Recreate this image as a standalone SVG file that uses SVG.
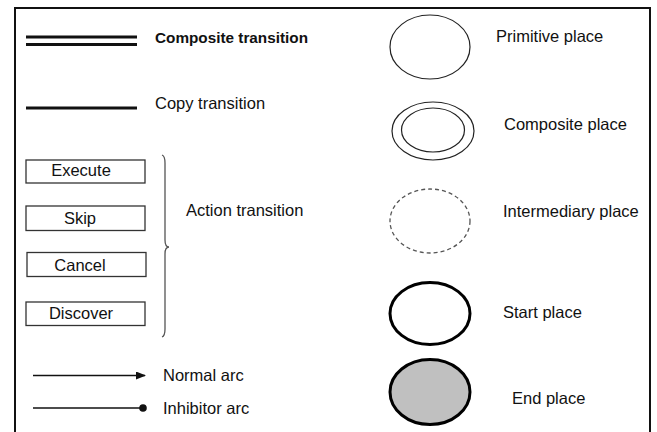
<svg xmlns="http://www.w3.org/2000/svg" width="657" height="432" viewBox="0 0 657 432">
<defs>
<style>
text{font-family:"Liberation Sans",Arial,sans-serif;font-size:16.5px;fill:#111}
.mid{text-anchor:middle}
.box{fill:#fff;stroke:#333;stroke-width:1.3}
.place{fill:#fff;stroke:#222;stroke-width:1.2}
.thick{stroke:#000;stroke-width:3}
.bar{stroke:#111;stroke-width:3;fill:none}
.arc{stroke:#111;stroke-width:1.3;fill:none}
</style>
<marker id="arrow" markerWidth="10" markerHeight="8" refX="9" refY="4" orient="auto" markerUnits="userSpaceOnUse">
<path d="M0,0 L10,4 L0,8 Z" fill="#111"/>
</marker>
<marker id="dot" markerWidth="9" markerHeight="9" refX="4.5" refY="4.5" orient="auto" markerUnits="userSpaceOnUse">
<circle cx="4.5" cy="4.5" r="3.8" fill="#111"/>
</marker>
</defs>
<rect x="0" y="0" width="657" height="432" fill="#fff"/>
<rect x="15" y="8" width="635" height="440" fill="none" stroke="#111" stroke-width="2"/>

<g id="composite-transition">
<line class="bar" x1="26" y1="37" x2="137" y2="37"/>
<line class="bar" x1="26" y1="44.5" x2="137" y2="44.5"/>
<text x="155" y="43" style="font-weight:bold;font-size:15.3px">Composite transition</text>
</g>
<g id="copy-transition">
<line class="bar" x1="26" y1="108" x2="137" y2="108"/>
<text x="155" y="109">Copy transition</text>
</g>

<g id="execute">
<rect class="box" x="26" y="160" width="119" height="23"/>
<text class="mid" x="81" y="176">Execute</text>
</g>
<g id="skip">
<rect class="box" x="26" y="206" width="119" height="24.5"/>
<text class="mid" x="80" y="224">Skip</text>
</g>
<g id="cancel">
<rect class="box" x="27" y="252.5" width="119" height="24"/>
<text class="mid" x="80" y="271">Cancel</text>
</g>
<g id="discover">
<rect class="box" x="26" y="302" width="119" height="23.5"/>
<text class="mid" x="81" y="319">Discover</text>
</g>
<g id="action-transition">
<path d="M162,155 Q165,156 165,163 L165,240 Q165,247 169,247 Q165,247 165,254 L165,329 Q165,336 162,337" fill="none" stroke="#555" stroke-width="1.3"/>
<text x="186" y="216">Action transition</text>
</g>

<g id="connectors">
<line class="arc" x1="33" y1="375.5" x2="145" y2="375.5" marker-end="url(#arrow)"/>
<line class="arc" x1="33" y1="408" x2="143" y2="408" marker-end="url(#dot)"/>
</g>
<g id="normal-arc"><text x="163" y="381">Normal arc</text></g>
<g id="inhibitor-arc"><text x="163" y="414">Inhibitor arc</text></g>

<g id="primitive-place">
<ellipse class="place" cx="430" cy="47" rx="40" ry="32"/>
<text x="496" y="42">Primitive place</text>
</g>
<g id="composite-place">
<ellipse class="place" cx="433" cy="131" rx="41" ry="29"/>
<ellipse class="place" cx="433" cy="130" rx="31.5" ry="22"/>
<text x="504" y="130">Composite place</text>
</g>
<g id="intermediary-place">
<ellipse cx="430" cy="221" rx="40" ry="32" fill="#fff" stroke="#555" stroke-width="1.3" stroke-dasharray="4,3"/>
<text x="503" y="217">Intermediary place</text>
</g>
<g id="start-place">
<ellipse class="thick" cx="430" cy="313.5" rx="40" ry="31" fill="#fff"/>
<text x="503" y="318">Start place</text>
</g>
<g id="end-place">
<ellipse class="thick" cx="430" cy="392" rx="40" ry="32.5" fill="#c0c0c0"/>
<text x="512" y="404">End place</text>
</g>
</svg>
